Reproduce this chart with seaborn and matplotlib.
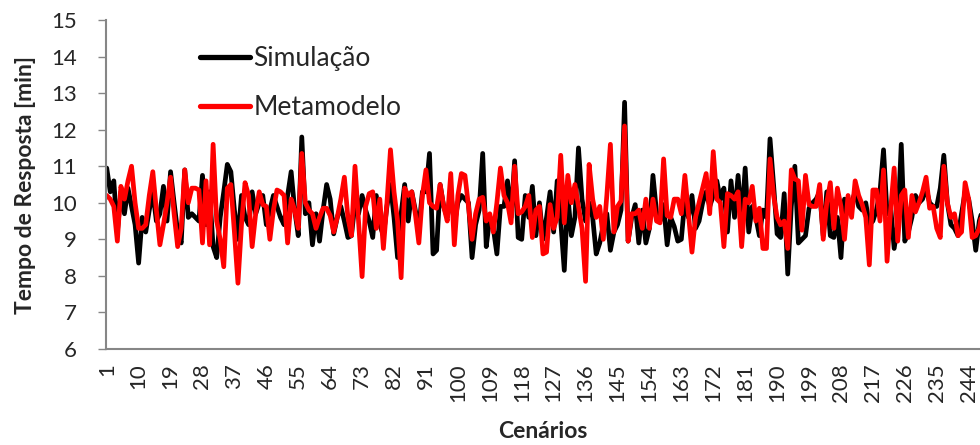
import matplotlib
matplotlib.use("Agg")
import matplotlib.pyplot as plt
import numpy as np
import pandas as pd
import seaborn as sns

# Tempo de resposta por cenário
simulacao = [
    10.95, 10.3, 10.6, 9.2, 10.3, 9.7, 10.4, 9.9, 9.4, 8.35,
    9.6, 9.2, 9.8, 10.3, 9.5, 9.7, 10.45, 9.5, 10.85, 10.0,
    9.2, 8.9, 10.9, 9.6, 9.7, 9.6, 9.5, 10.75, 9.4, 10.3,
    8.8,
    8.5, 9.6, 10.3, 11.05, 10.85, 9.8, 9.0, 10.2, 9.6, 9.4,
    10.3, 9.7, 10.0, 10.2, 9.4, 9.8, 10.2, 9.9, 9.6, 9.4,
    10.2, 10.85, 9.8, 9.1, 11.8, 9.7, 10.0, 8.85, 9.7, 8.95,
    9.8,
    10.5, 10.1, 9.15, 9.6, 9.9, 9.5, 9.05, 9.1, 10.0, 9.7,
    10.2, 9.8, 9.5, 9.05, 10.2, 9.4, 9.1, 9.9, 10.5, 9.6,
    8.5, 9.7, 10.5, 9.5, 10.3, 9.8, 9.3, 10.3, 10.3, 11.35,
    8.6,
    8.7, 10.5, 9.9, 9.6, 10.3, 9.4, 10.0, 10.2, 10.1, 10.0,
    8.5, 9.4, 9.8, 11.35, 8.8, 9.6, 9.3, 8.6, 9.9, 9.9,
    10.6, 9.6, 11.15, 9.05, 9.0, 10.2, 9.6, 10.45, 9.1, 10.0,
    9.0,
    9.6, 10.3, 9.2, 10.6, 9.5, 8.15, 10.2, 9.1, 9.6, 11.5,
    10.1, 9.5, 10.0, 9.6, 8.6, 8.9, 9.4, 9.7, 8.7, 9.2,
    9.4, 9.8, 12.75, 8.95, 9.6, 9.95, 8.9, 9.8, 8.9, 9.3,
    10.75,
    9.75, 9.5, 9.95, 8.85, 9.6, 9.35, 8.95, 9.0, 10.1, 9.6,
    10.2, 9.3, 9.5, 10.0, 10.3, 9.9, 10.2, 10.6, 10.1, 10.4,
    9.2, 10.6, 9.6, 10.75, 9.5, 10.95, 9.2, 9.9, 9.6, 9.1,
    9.8,
    9.6, 11.75, 10.5, 9.15, 9.05, 10.25, 8.05, 9.9, 11.0, 8.9,
    9.0, 9.1, 9.85, 10.0, 10.1, 10.3, 9.1, 10.3, 9.1, 9.05,
    9.6, 8.5, 10.1, 9.9, 10.0, 10.3, 9.9, 9.8, 10.0, 9.4,
    9.5,
    9.8, 10.3, 11.45, 9.7, 9.9, 8.75, 9.4, 11.6, 8.95, 9.2,
    9.6, 10.2, 10.0, 10.1, 10.4, 10.0, 9.9, 9.9, 10.4, 11.3,
    10.0, 9.4, 9.3, 9.1, 9.7, 10.3, 10.1, 9.5, 8.7, 9.5,
    9.85,
]

metamodelo = [
    10.2, 10.1, 9.9, 8.95, 10.45, 10.1, 10.6, 11.0, 10.0, 9.3,
    9.3, 9.4, 10.2, 10.85, 9.8, 8.85, 9.4, 10.0, 10.7, 9.7,
    8.8, 9.3, 10.9, 10.0, 10.4, 10.4, 10.35, 8.9, 10.6, 8.85,
    11.6,
    9.5, 9.0, 8.25, 10.4, 10.5, 9.2, 7.8, 9.4, 10.55, 10.2,
    8.8, 9.7, 10.3, 9.95, 9.9, 9.0, 9.8, 10.35, 10.3, 10.2,
    8.9, 10.1, 9.8, 9.3, 11.35, 10.0, 9.8, 9.7, 9.3, 9.6,
    9.85,
    9.85, 9.65, 9.2, 9.6, 10.1, 10.7, 9.6, 9.1, 11.0, 9.5,
    7.98, 9.9, 10.25, 10.3, 9.3, 10.1, 8.75, 10.0, 11.45, 10.3,
    9.5, 7.95, 10.4, 10.2, 10.3, 9.7, 8.9, 10.2, 10.9, 10.0,
    9.9,
    9.85, 10.5, 9.9, 9.5, 10.8, 8.85, 10.2, 10.8, 10.75, 9.9,
    9.0, 9.7, 10.1, 10.15, 9.5, 9.7, 9.2, 10.0, 10.95, 10.2,
    10.0, 9.45, 11.0, 9.7, 9.75, 9.9, 10.2, 9.05, 9.8, 9.9,
    8.6,
    8.65, 9.95, 9.3, 9.6, 11.3, 9.45, 10.75, 10.0, 10.5, 9.9,
    9.3, 7.85, 11.05, 10.1, 9.6, 9.9, 9.0, 10.2, 11.6, 9.2,
    9.9, 10.05, 12.1, 8.95, 9.7, 9.7, 9.8, 9.3, 10.1, 9.3,
    10.1,
    9.5, 9.45, 11.2, 9.65, 9.6, 10.1, 10.1, 9.7, 10.75, 9.7,
    8.65, 9.6, 10.0, 10.4, 10.8, 9.7, 11.4, 10.1, 10.0, 8.8,
    10.25, 10.2, 10.1, 10.3, 8.8, 10.1, 10.0, 10.45, 9.5, 9.85,
    8.75,
    8.75, 11.2, 10.2, 9.6, 9.4, 9.5, 8.75, 10.9, 10.65, 10.6,
    9.25, 10.75, 9.95, 9.9, 9.9, 10.5, 9.0, 10.0, 10.55, 9.3,
    10.4, 9.9, 9.0, 10.2, 9.6, 10.6, 10.2, 9.95, 9.6, 8.3,
    10.35,
    10.35, 9.5, 10.9, 8.4, 9.8, 10.95, 8.95, 10.2, 10.35, 9.05,
    10.2, 9.75, 10.0, 10.3, 10.7, 9.85, 9.9, 9.3, 9.05, 11.0,
    10.0, 9.6, 9.7, 9.1, 9.2, 10.55, 10.1, 9.05, 9.1, 9.3,
    9.85,
]

cenarios = list(range(1, len(simulacao) + 1))
tick_cenarios = list(range(1, 245, 9))
serie_nomes = ["Simulação", "Metamodelo"]
serie_cores = ["#000000", "#ff0000"]

df = pd.DataFrame({
    "Cenário": cenarios * 2,
    "Tempo": simulacao + metamodelo,
    "Série": [serie_nomes[0]] * len(simulacao) + [serie_nomes[1]] * len(metamodelo),
})

sns.set_style("white")
plt.rcParams["font.family"] = ["Lato", "DejaVu Sans"]

fig = plt.figure(figsize=(9.8, 4.45), dpi=100)
ax = fig.add_axes([106 / 980, 1 - 349 / 445, 1 - 106 / 980, 329 / 445])

sns.lineplot(
    data=df, x="Cenário", y="Tempo", hue="Série",
    hue_order=serie_nomes, palette=dict(zip(serie_nomes, serie_cores)),
    linewidth=3.4, ax=ax, legend=True,
)

ax.set_xlim(0.8, 247.2)
ax.set_ylim(6, 15)
ax.set_yticks(range(6, 16))
ax.set_xticks(tick_cenarios)
ax.set_xticklabels([str(t) for t in tick_cenarios], rotation=90)

ax.tick_params(axis="y", length=6, width=1, color="#868686", labelsize=16, pad=15, left=True)
ax.tick_params(axis="x", length=0, labelsize=16, pad=10)

for side in ["top", "right"]:
    ax.spines[side].set_visible(False)
for side in ["left", "bottom"]:
    ax.spines[side].set_color("#868686")
    ax.spines[side].set_linewidth(1.5)

ax.set_ylabel("Tempo de Resposta [min]", fontsize=16.5, fontweight="bold", labelpad=11)
ax.set_xlabel("Cenários", fontsize=16.5, fontweight="bold", labelpad=14)

ax.legend(
    loc="upper left", bbox_to_anchor=(0.107, 0.92), frameon=False,
    fontsize=19, handlelength=1.9, handletextpad=0.15, labelspacing=0.9,
    borderpad=0, borderaxespad=0,
)
for line in ax.get_legend().get_lines():
    line.set_linewidth(3.8)

fig.savefig("out.png", dpi=100)
